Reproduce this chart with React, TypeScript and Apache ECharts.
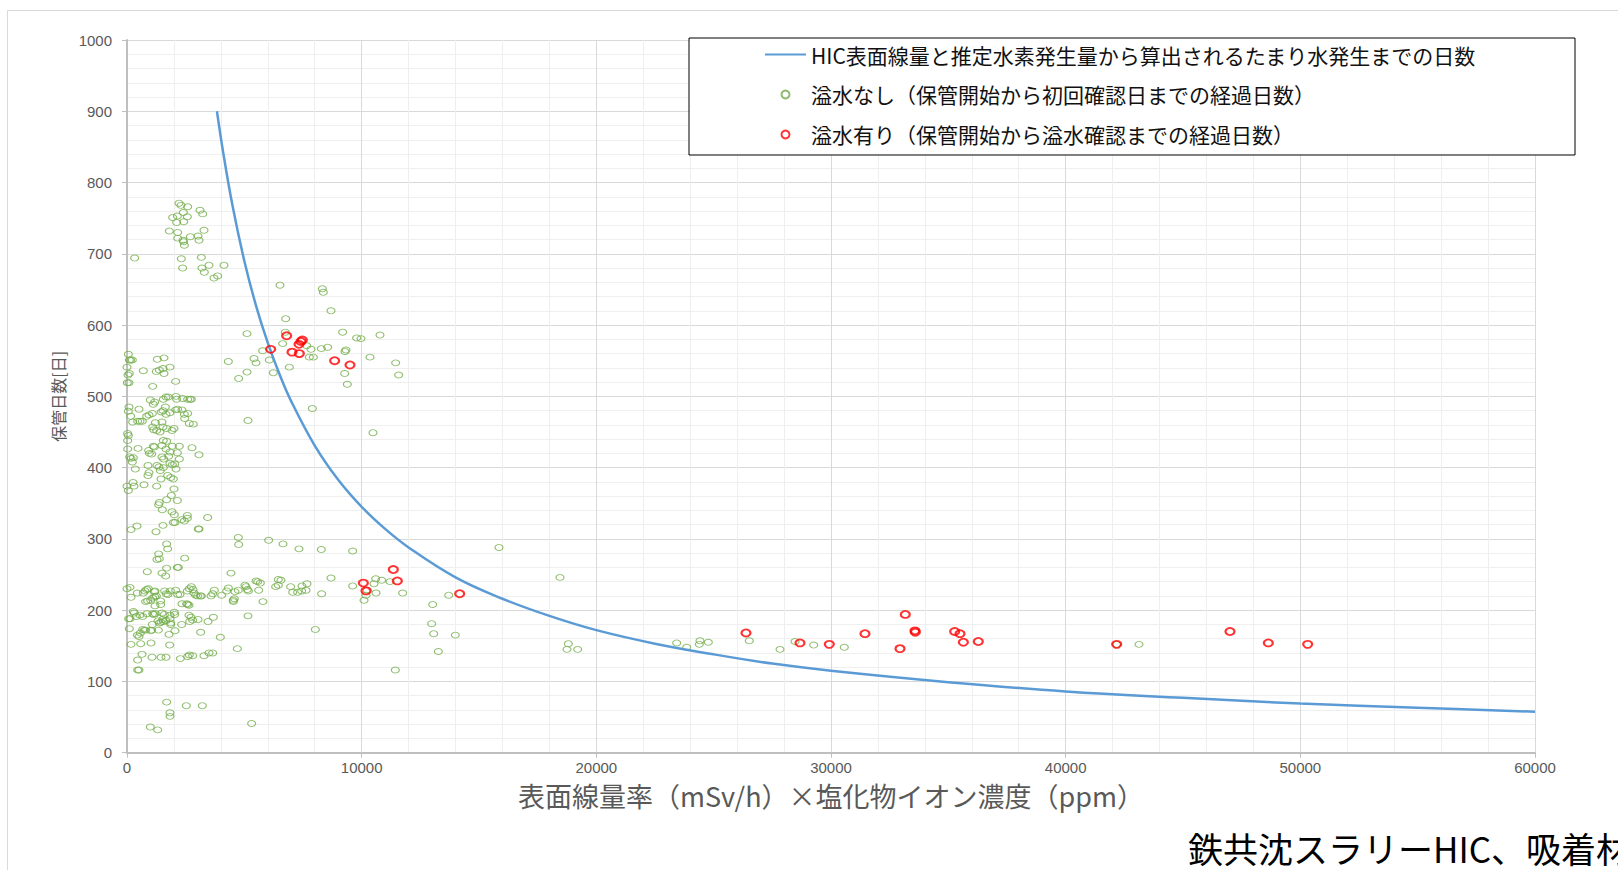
import React, { useEffect, useRef } from "react";
import * as echarts from "echarts";

// Axis ranges
const X_MIN = 0;
const X_MAX = 60000;
const X_STEP = 10000;
const Y_MIN = 0;
const Y_MAX = 1000;
const Y_STEP = 100;

// Series names (legend texts)
const LINE_NAME = "HIC表面線量と推定水素発生量から算出されるたまり水発生までの日数";
const NO_OVERFLOW_NAME = "溢水なし（保管開始から初回確認日までの経過日数）";
const OVERFLOW_NAME = "溢水有り（保管開始から溢水確認までの経過日数）";

const X_TITLE = "表面線量率（mSv/h）×塩化物イオン濃度（ppm）";
const Y_TITLE = "保管日数[日]";
const FOOT_TEXT = "鉄共沈スラリーHIC、吸着材";

// Estimated days until standing water appears, [dose×chloride, days]
const curvePoints: [number, number][] = [
  [3833, 900], [4100, 842], [4500, 767], [5000, 690], [5500, 627], [6000, 575],
  [6500, 531], [7000, 493], [8000, 431], [9000, 383], [10000, 345], [11000, 314],
  [12000, 288], [14000, 246], [16000, 216], [18000, 192], [20000, 172], [22500, 153],
  [25000, 138], [27500, 125], [30000, 115], [35000, 99], [40000, 86], [45000, 77],
  [50000, 69], [55000, 63], [60000, 57.5],
];

// HICs without overflow: [dose×chloride, days to first check]
const noOverflowTop: [number, number][] = [
  [327, 694], [2216, 771], [2301, 768], [2585, 766], [2400, 758], [3111, 761], [3224, 756],
  [1946, 751], [2145, 753], [2571, 752], [2116, 744], [2415, 745], [1804, 732], [2159, 730],
  [3281, 733], [2159, 722], [2386, 719], [2415, 717], [2443, 712], [2699, 724], [3026, 725],
  [3068, 719], [2315, 693], [3168, 695], [2372, 680], [3196, 680], [3295, 674], [3494, 684],
  [4133, 684], [3707, 666], [3864, 669], [6520, 656], [8324, 651], [8366, 646],
];

const noOverflowMid: [number, number][] = [
  [8693, 620], [6761, 609], [5114, 588], [6747, 590], [4318, 549], [4759, 525], [5114, 534],
  [5156, 466], [5412, 553], [5497, 547], [5781, 564], [6065, 551], [6236, 533], [6634, 574],
  [6918, 541], [7656, 571], [7841, 566], [7770, 555], [7940, 555], [7898, 483], [8281, 567],
  [8551, 569], [9190, 590], [9290, 563], [9332, 565], [9276, 532], [9389, 517], [9787, 582],
  [9972, 581], [10355, 555], [10781, 586], [11449, 547], [11577, 530], [10483, 449],
  [4744, 302], [4759, 292], [6037, 298], [6648, 293], [7330, 286], [8281, 285], [9616, 283],
  [4432, 252],
];

const noOverflowLeft: [number, number][] = [
  [57, 559], [100, 551], [156, 551], [227, 551], [0, 541], [43, 530], [100, 532], [14, 519],
  [85, 519], [85, 485], [57, 479], [156, 472], [241, 464], [28, 448], [57, 445], [28, 438],
  [28, 426], [114, 415], [170, 413], [270, 414], [227, 408], [355, 398], [0, 374], [57, 368],
  [256, 379], [298, 374], [170, 313], [426, 318], [696, 536], [511, 482], [455, 465],
  [554, 465], [653, 465], [469, 427], [724, 376],
  [1293, 552], [1577, 554], [1250, 535], [1378, 537], [1534, 539], [1577, 532], [1832, 541],
  [2074, 521], [1094, 514], [994, 495], [1122, 489], [1179, 492], [1548, 496], [1662, 499],
  [1761, 499], [2088, 500], [2116, 496], [2372, 497], [2585, 496], [2685, 496], [2741, 496],
  [1634, 485], [838, 472], [937, 474], [1080, 476], [1463, 478], [1534, 480], [1662, 475],
  [1832, 477], [2074, 481], [2159, 482], [2344, 481], [2443, 475], [2585, 476], [2457, 469],
  [2656, 462], [2827, 461], [1207, 463], [1491, 464], [1094, 457], [1136, 453], [1264, 452],
  [1406, 450], [1534, 457], [1690, 455], [1918, 452], [2003, 455], [1548, 438], [1690, 437],
  [1122, 430], [1165, 429], [1491, 431], [1932, 430], [2230, 430], [2770, 428], [923, 424],
  [952, 420], [1051, 419], [1662, 426], [1832, 422], [2145, 421], [3068, 418], [1491, 415],
  [1776, 416], [2230, 412], [1562, 412], [895, 403], [937, 393], [895, 389], [1278, 403],
  [1364, 401], [1548, 400], [1420, 396], [1832, 406], [1932, 404], [2031, 405], [2088, 398],
  [1264, 374], [1449, 384], [1733, 389], [1861, 386], [1974, 384], [2003, 370], [1889, 361],
  [1690, 355], [2145, 354], [1349, 348], [1378, 351], [1506, 341], [1918, 338], [2017, 334],
  [1974, 323], [2045, 323], [2330, 327], [2443, 325], [2571, 333], [2571, 329], [3040, 314],
  [3068, 314], [3438, 330], [1534, 319], [1236, 310], [1690, 293], [1733, 286], [1349, 279],
  [1378, 272], [1278, 271], [2457, 273], [1690, 259], [2145, 260], [2187, 260], [866, 254],
  [1491, 252], [1648, 248],
];

const noOverflowLow: [number, number][] = [
  [0, 230], [128, 232], [170, 218], [71, 188], [128, 188], [99, 174], [170, 152], [270, 198],
  [312, 196], [440, 224], [398, 191], [440, 165], [511, 163], [568, 168], [668, 173],
  [739, 172], [795, 172], [455, 130], [455, 116], [511, 116], [639, 138], [582, 153],
  [554, 193], [668, 191], [696, 224], [767, 227], [838, 229], [909, 230], [795, 212],
  [881, 213], [852, 195], [1023, 154], [1065, 134], [1009, 171], [1051, 172], [1094, 195],
  [1136, 194], [1207, 195], [1080, 180], [1094, 217], [1179, 219], [1250, 220], [1009, 214],
  [1165, 226], [1193, 227], [1193, 206], [1321, 185], [1378, 182], [1449, 183], [1335, 172],
  [1435, 213], [1435, 208], [1605, 227], [1676, 223], [1747, 222], [1491, 196], [1591, 194],
  [1520, 187], [1548, 184], [1662, 185], [1449, 134], [1662, 134], [1847, 227], [1832, 193],
  [1832, 188], [1861, 182], [1861, 180], [1790, 166], [1818, 151], [2017, 197], [2031, 194],
  [2045, 171], [2074, 228], [2159, 222], [2258, 222], [2330, 180], [2273, 132], [2344, 209],
  [2543, 209], [2585, 208], [2642, 207], [2571, 227], [2656, 230], [2741, 233], [2812, 229],
  [2585, 135], [2656, 137], [2798, 136], [2642, 193], [2727, 190], [2798, 186], [2670, 184],
  [2855, 224], [2926, 221], [3011, 220], [3125, 220], [3168, 220], [3026, 187], [3139, 169],
  [3281, 136], [3452, 184], [3494, 140], [3651, 140], [3679, 190], [3580, 220], [3651, 223],
  [3722, 228], [3977, 162], [4034, 221], [4247, 227], [4318, 231], [4531, 214], [4531, 212],
  [4574, 216], [4602, 226], [4744, 228], [4702, 146], [5028, 235], [5071, 233], [5128, 229],
  [5170, 227], [5156, 192], [5312, 41], [5497, 241], [5568, 240], [5611, 228], [5682, 238],
  [5795, 212], [6335, 233], [6449, 235], [6449, 243], [6562, 242], [6974, 233], [7060, 225],
  [7273, 225], [7443, 227], [7628, 228], [7457, 234], [7670, 237], [8026, 173], [8295, 223],
  [8693, 245], [9616, 234], [10100, 214], [10185, 221], [10241, 228], [10526, 237],
  [10597, 244], [10611, 224], [10852, 242], [11207, 240], [11434, 116], [11747, 224],
  [1690, 71], [1832, 56], [1832, 51], [2528, 66], [3210, 66], [994, 36], [1307, 32],
];

const noOverflowRight: [number, number][] = [
  [15852, 288], [18451, 246], [13026, 208], [13708, 221], [12983, 181], [13069, 167],
  [13991, 165], [13267, 142], [18807, 153], [18750, 145], [19205, 145], [23424, 154],
  [23850, 148], [24417, 157], [24389, 152], [24772, 155], [26518, 157], [27827, 145],
  [28466, 156], [29262, 151], [30567, 148], [42173, 152], [43125, 152],
];

// HICs with overflow: [dose×chloride, days to overflow confirmation]
const overflowPoints: [number, number][] = [
  [6122, 566], [6804, 585], [7031, 562], [7344, 560], [7330, 573], [7415, 577], [7472, 579],
  [8849, 550], [9503, 544], [10071, 238], [10185, 227], [11349, 257], [11520, 241],
  [14177, 223], [26377, 168], [28679, 154], [29928, 152], [31448, 167], [33166, 194],
  [32940, 146], [33579, 171], [33592, 169], [35270, 170], [35497, 167], [35640, 155],
  [36277, 156], [42173, 152], [47002, 170], [48636, 154], [50313, 152],
];

const noOverflowPoints = [
  ...noOverflowTop,
  ...noOverflowMid,
  ...noOverflowLeft,
  ...noOverflowLow,
  ...noOverflowRight,
];

const CJK = '"Noto Sans CJK JP", "Noto Sans", sans-serif';
const NUM = '"Liberation Sans", Arial, sans-serif';
const BLUE = "#5b9bd5";
const GREEN = "#70ad47";
const RED = "#ff0000";

// Plain integer tick labels (no thousands separators)
const plainNumber = (v: number) => String(Math.round(v));

function buildOption(): echarts.EChartsOption {
  const axisLine = { show: true, lineStyle: { color: "#bfbfbf", width: 2 } };
  const axisTick = { show: true, length: 5, lineStyle: { color: "#bfbfbf", width: 1 } };
  const splitLine = { show: true, lineStyle: { color: "#d9d9d9", width: 1 } };
  const minorSplitLine = { show: true, lineStyle: { color: "#efefef", width: 1 } };
  const axisLabel = {
    color: "#595959",
    fontSize: 15,
    fontFamily: NUM,
    formatter: plainNumber,
  };

  return {
    animation: false,
    backgroundColor: "#ffffff",
    textStyle: { fontFamily: CJK },
    grid: { left: 127, top: 40, width: 1408, height: 712.7, containLabel: false },
    xAxis: {
      type: "value",
      min: X_MIN,
      max: X_MAX,
      interval: X_STEP,
      name: X_TITLE,
      nameLocation: "middle",
      nameGap: 29,
      nameTextStyle: { color: "#595959", fontSize: 27, fontFamily: CJK },
      axisLine,
      axisTick,
      axisLabel: { ...axisLabel, margin: 7 },
      splitLine,
      minorTick: { show: false, splitNumber: 5 },
      minorSplitLine,
    },
    yAxis: {
      type: "value",
      min: Y_MIN,
      max: Y_MAX,
      interval: Y_STEP,
      name: Y_TITLE,
      nameLocation: "middle",
      nameGap: 61,
      nameRotate: 90,
      nameTextStyle: { color: "#595959", fontSize: 16, fontFamily: CJK },
      axisLine,
      axisTick,
      axisLabel: { ...axisLabel, margin: 15 },
      splitLine,
      minorTick: { show: false, splitNumber: 5 },
      minorSplitLine,
    },
    legend: {
      orient: "vertical",
      left: 689,
      top: 38,
      padding: [6, 24, 10, 75],
      itemWidth: 41,
      itemHeight: 8,
      itemGap: 19,
      itemTextGap: 3,
      backgroundColor: "#ffffff",
      borderColor: "#000000",
      borderWidth: 1,
      borderRadius: 0,
      z: 10,
      textStyle: {
        fontSize: 21,
        lineHeight: 20,
        color: "#111111",
        fontFamily: CJK,
        width: 740,
      },
      data: [
        // line sample only, without a marker dot
        { name: LINE_NAME, itemStyle: { opacity: 0 } },
        { name: NO_OVERFLOW_NAME },
        { name: OVERFLOW_NAME },
      ],
    },
    graphic: [
      {
        type: "rect",
        z: -10,
        silent: true,
        shape: { x: 7.5, y: 10.5, width: 1700, height: 1000 },
        style: { fill: "none", stroke: "#d9d9d9", lineWidth: 1 },
      },
      {
        type: "text",
        x: 1188,
        y: 830,
        silent: true,
        style: {
          text: FOOT_TEXT,
          fontSize: 35,
          fontFamily: CJK,
          fill: "#000000",
          verticalAlign: "top",
        },
      },
    ],
    series: [
      {
        name: LINE_NAME,
        type: "line",
        data: curvePoints,
        smooth: 0.4,
        symbol: "none",
        z: 3,
        lineStyle: { color: BLUE, width: 2.5 },
        itemStyle: { color: BLUE },
      },
      {
        name: NO_OVERFLOW_NAME,
        type: "scatter",
        data: noOverflowPoints,
        symbol: "circle",
        symbolSize: [8, 6],
        z: 2,
        itemStyle: { color: "rgba(0,0,0,0)", borderColor: GREEN, borderWidth: 1 },
      },
      {
        name: OVERFLOW_NAME,
        type: "scatter",
        data: overflowPoints,
        symbol: "circle",
        symbolSize: [9, 7],
        z: 4,
        itemStyle: { color: "rgba(0,0,0,0)", borderColor: RED, borderWidth: 2 },
      },
    ],
  };
}

export default function App() {
  const ref = useRef<HTMLDivElement>(null);

  useEffect(() => {
    if (!ref.current) return;
    const chart = echarts.init(ref.current, null, { renderer: "svg" });
    chart.setOption(buildOption());
    return () => chart.dispose();
  }, []);

  return (
    <div
      ref={ref}
      style={{
        position: "fixed",
        left: 0,
        top: 0,
        width: 1618,
        height: 870,
        background: "#ffffff",
      }}
    />
  );
}
